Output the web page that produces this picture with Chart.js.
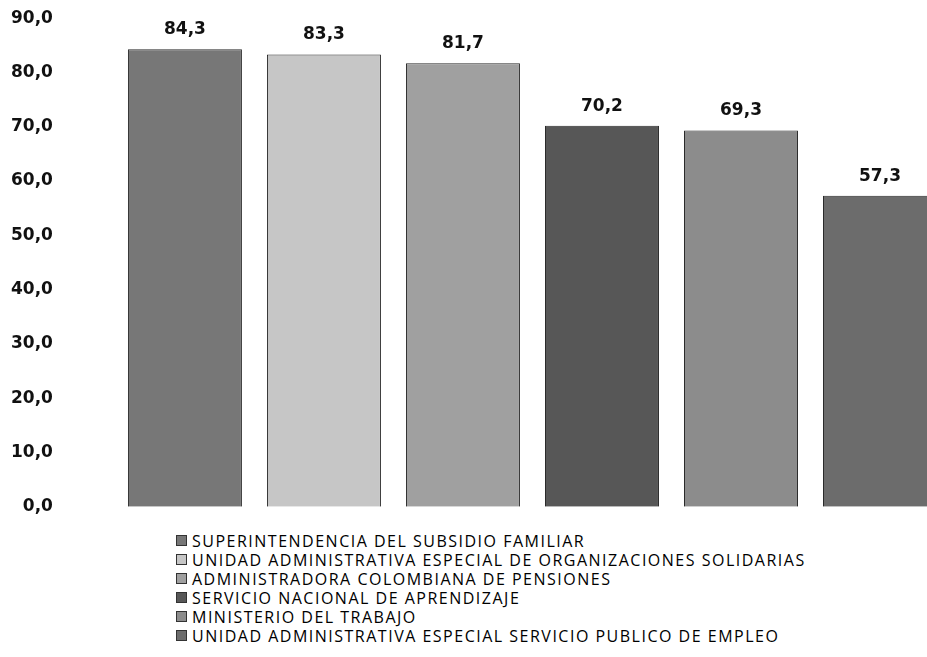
<!DOCTYPE html>
<html>
<head>
<meta charset="utf-8">
<script src="https://cdn.jsdelivr.net/npm/chart.js@4/dist/chart.umd.min.js"></script>
<style>
  html, body { margin: 0; padding: 0; background: #fff; }
  #wrap { position: relative; width: 927px; height: 657px; overflow: hidden; }
  #chartBox { position: absolute; left: 0; top: 0; width: 999px; height: 525px; }
  #legend { position: absolute; left: 176px; top: 532px; font-family: "Open Sans", sans-serif;
            font-size: 16px; letter-spacing: 1.5px; color: #000; line-height: 19px; }
  #legend div { white-space: nowrap; }
  #legend span.box { display: inline-block; width: 9px; height: 9px; margin-right: 5px;
                     border: 1px solid #333; vertical-align: 1px; }
</style>
</head>
<body>
<div id="wrap">
  <div id="chartBox"><canvas id="chart"></canvas></div>
  <div id="legend"></div>
</div>
<script>
// entidades (orden de la leyenda)
const entities = [
  'SUPERINTENDENCIA DEL SUBSIDIO FAMILIAR',
  'UNIDAD ADMINISTRATIVA ESPECIAL DE ORGANIZACIONES SOLIDARIAS',
  'ADMINISTRADORA COLOMBIANA DE PENSIONES',
  'SERVICIO NACIONAL DE APRENDIZAJE',
  'MINISTERIO DEL TRABAJO',
  'UNIDAD ADMINISTRATIVA ESPECIAL SERVICIO PUBLICO DE EMPLEO'
];
const scores = [84.3, 83.3, 81.7, 70.2, 69.3, 57.3];
const barColors = ['#777777', '#c6c6c6', '#a0a0a0', '#575757', '#8c8c8c', '#6c6c6c'];
const yTicks = [0, 10, 20, 30, 40, 50, 60, 70, 80, 90];

const fmt = v => v.toFixed(1).replace('.', ',');

// etiquetas de valor encima de cada barra
const valueLabels = {
  id: 'valueLabels',
  afterDatasetsDraw(chart) {
    const ctx = chart.ctx;
    ctx.save();
    ctx.font = 'bold 17px "DejaVu Sans", Verdana, sans-serif';
    ctx.fillStyle = '#111';
    ctx.textAlign = 'center';
    ctx.textBaseline = 'bottom';
    chart.data.datasets.forEach((ds, i) => {
      const bar = chart.getDatasetMeta(i).data[0];
      ctx.fillText(fmt(ds.data[0]), bar.x, bar.y - 11);
    });
    ctx.restore();
  }
};

new Chart(document.getElementById('chart'), {
  type: 'bar',
  data: {
    labels: [''],
    datasets: entities.map((name, i) => ({
      label: name,
      data: [scores[i]],
      backgroundColor: barColors[i],
      borderColor: '#2a2a2a',
      borderWidth: 1
    }))
  },
  options: {
    responsive: true,
    maintainAspectRatio: false,
    animation: false,
    layout: { padding: { left: 3, top: 8, right: 3, bottom: 14 } },
    datasets: { bar: { categoryPercentage: 0.8997, barPercentage: 0.82 } },
    plugins: { legend: { display: false }, tooltip: { enabled: false } },
    scales: {
      x: { display: false },
      y: {
        min: 0,
        max: 90,
        afterBuildTicks: axis => { axis.ticks = yTicks.map(v => ({ value: v })); },
        grid: { display: false },
        border: { display: false },
        ticks: {
          padding: 8,
          color: '#111',
          font: { family: '"DejaVu Sans", Verdana, sans-serif', size: 17, weight: 'bold' },
          callback: v => fmt(v)
        }
      }
    }
  },
  plugins: [valueLabels]
});

// leyenda vertical como en el original
const legendEl = document.getElementById('legend');
entities.forEach((name, i) => {
  const row = document.createElement('div');
  const box = document.createElement('span');
  box.className = 'box';
  box.style.background = barColors[i];
  row.appendChild(box);
  row.appendChild(document.createTextNode(name));
  legendEl.appendChild(row);
});
</script>
</body>
</html>
